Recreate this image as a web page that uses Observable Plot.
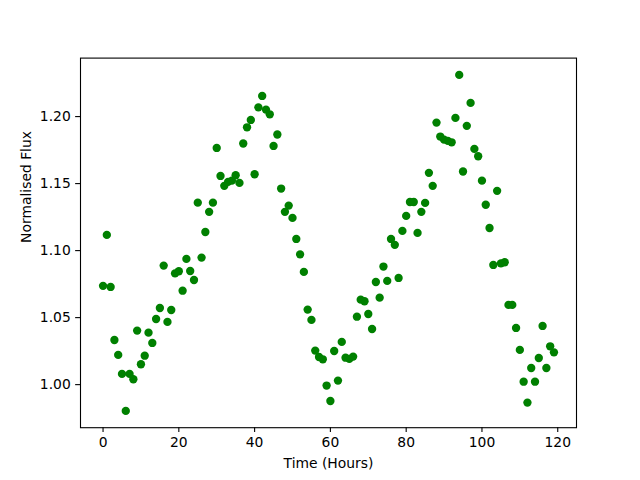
<!DOCTYPE html>
<html>
<head>
<meta charset="utf-8">
<script src="https://cdn.jsdelivr.net/npm/d3@7"></script>
<script src="https://cdn.jsdelivr.net/npm/@observablehq/plot@0.6"></script>
<style>
  html, body { margin: 0; padding: 0; background: white; }
</style>
</head>
<body>
<div id="chart"></div>
<script>
const hours = d3.range(0, 120);
const flux = [
  1.0737, 1.1117, 1.0729, 1.0333, 1.0222, 1.0080, 0.9804, 1.0080, 1.0040, 1.0403,
  1.0152, 1.0216, 1.0388, 1.0311, 1.0490, 1.0572, 1.0888, 1.0468, 1.0557, 1.0830,
  1.0846, 1.0701, 1.0938, 1.0848, 1.0781, 1.1358, 1.0948, 1.1139, 1.1289, 1.1358,
  1.1766, 1.1557, 1.1483, 1.1513, 1.1522, 1.1562, 1.1505, 1.1799, 1.1920, 1.1975,
  1.1570, 1.2069, 1.2154, 1.2052, 1.2017, 1.1781, 1.1866, 1.1463, 1.1289, 1.1336,
  1.1244, 1.1087, 1.0972, 1.0841, 1.0560, 1.0483, 1.0254, 1.0206, 1.0189, 0.9993,
  0.9878, 1.0251, 1.0030, 1.0319, 1.0201, 1.0192, 1.0209, 1.0507, 1.0634, 1.0622,
  1.0527, 1.0415, 1.0766, 1.0649, 1.0881, 1.0774, 1.1087, 1.1043, 1.0796, 1.1147,
  1.1259, 1.1363, 1.1363, 1.1132, 1.1289, 1.1356, 1.1580, 1.1483, 1.1955, 1.1851,
  1.1828, 1.1819, 1.1808, 1.1990, 1.2311, 1.1590, 1.1931, 1.2102, 1.1759, 1.1704,
  1.1522, 1.1342, 1.1169, 1.0893, 1.1446, 1.0905, 1.0913, 1.0595, 1.0595, 1.0423,
  1.0259, 1.0022, 0.9866, 1.0124, 1.0022, 1.0199, 1.0438, 1.0124, 1.0286, 1.0241
];
const xTicks = [0, 20, 40, 60, 80, 100, 120];
const yTicks = [1.00, 1.05, 1.10, 1.15, 1.20];
const xLabel = "Time (Hours)";
const yLabel = "Normalised Flux";

const data = hours.map((h, i) => ({hour: h, flux: flux[i]}));

// matplotlib-style 5% margins
const xMin = d3.min(hours), xMax = d3.max(hours);
const yMin = d3.min(flux), yMax = d3.max(flux);
const xPad = (xMax - xMin) * 0.05, yPad = (yMax - yMin) * 0.05;

const chart = Plot.plot({
  width: 640,
  height: 480,
  marginLeft: 80,
  marginRight: 64,
  marginTop: 57.6,
  marginBottom: 52.8,
  style: {fontFamily: "DejaVu Sans", fontSize: "13.89px", color: "black", background: "white"},
  x: {domain: [xMin - xPad, xMax + xPad]},
  y: {domain: [yMin - yPad, yMax + yPad]},
  marks: [
    Plot.dot(data, {x: "hour", y: "flux", r: 4.17, fill: "green", stroke: "none"}),
    Plot.frame({stroke: "black", strokeWidth: 1.1}),
    Plot.axisX({ticks: xTicks, tickSize: 4.86, tickPadding: 4.86, label: null, strokeWidth: 1.1}),
    Plot.axisY({ticks: yTicks, tickSize: 4.86, tickPadding: 4.86, label: null, tickFormat: d3.format(".2f"), strokeWidth: 1.1}),
    Plot.text([xLabel], {text: d => d, frameAnchor: "bottom", lineAnchor: "top", dy: 30, fill: "black"}),
    Plot.text([yLabel], {text: d => d, frameAnchor: "left", rotate: -90, dx: -54, fill: "black"})
  ]
});
document.getElementById("chart").appendChild(chart);
</script>
</body>
</html>
